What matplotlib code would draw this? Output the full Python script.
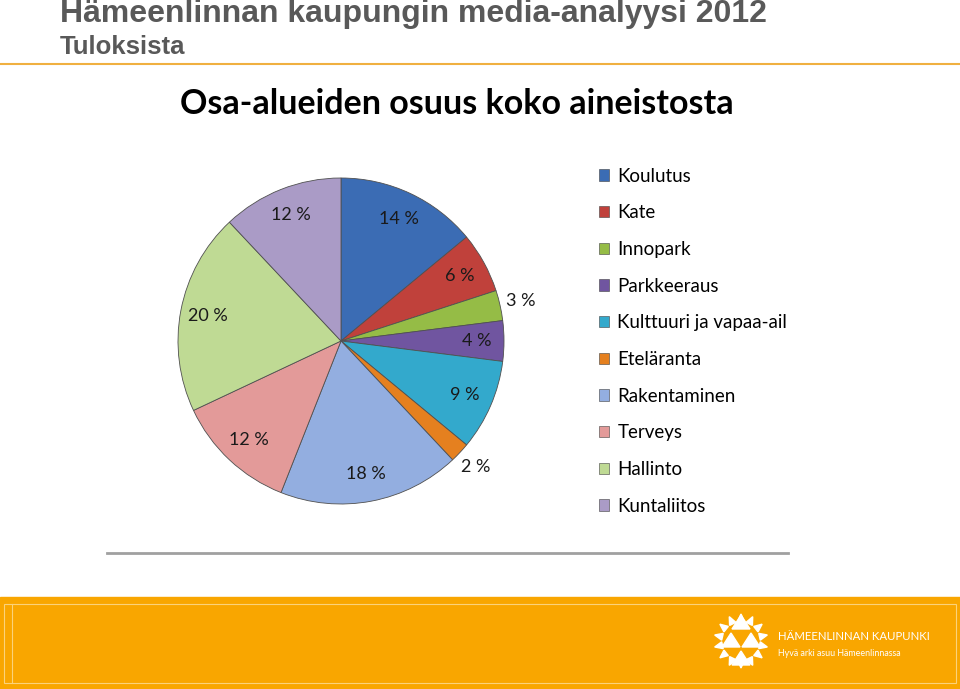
import numpy as np
import matplotlib
matplotlib.use("Agg")
import matplotlib.pyplot as plt
from matplotlib.patches import Rectangle, Polygon

# ---- data ----
categories = ["Koulutus", "Kate", "Innopark", "Parkkeeraus",
              "Kulttuuri ja vapaa-ail", "Eteläranta", "Rakentaminen",
              "Terveys", "Hallinto", "Kuntaliitos"]
shares = [14, 6, 3, 4, 9, 2, 18, 12, 20, 12]
colors = ["#3B6CB4", "#C0413B", "#95BC46", "#7055A0", "#33A9CC",
          "#E5801F", "#93AEE0", "#E39A99", "#BFDA94", "#AA9BC6"]
outside = [False, False, True, False, False, True, False, False, False, False]

W, H = 960, 689
fig = plt.figure(figsize=(W / 100, H / 100), dpi=100)

# background axes in pixel coordinates
bg = fig.add_axes([0, 0, 1, 1])
bg.set_xlim(0, W)
bg.set_ylim(H, 0)
bg.axis("off")

GRAY = "#595959"
bg.text(60, 14, "Hämeenlinnan kaupungin media-analyysi 2012", fontsize=23,
        fontweight="bold", color=GRAY, family="Liberation Sans", va="center")
bg.text(60, 47, "Tuloksista", fontsize=18.5, fontweight="bold", color=GRAY,
        family="Liberation Sans", va="center")
bg.plot([0, W], [64, 64], color="#F0B040", linewidth=1.5)

bg.text(457, 104, "Osa-alueiden osuus koko aineistosta", fontsize=24.5,
        fontweight="bold", color="black", family="Lato",
        ha="center", va="center")

bg.plot([107, 788], [553, 553], color="#A0A0A0", linewidth=2)

# footer band
bg.add_patch(Rectangle((0, 597), W, H - 597, color="#F9A600", zorder=1))
bg.add_patch(Rectangle((4, 604), 952, 79, fill=False, edgecolor="#FBD27A",
                       linewidth=0.8, zorder=2))
bg.plot([12, 12], [604, 683], color="#FBD27A", linewidth=0.8, zorder=2)

# logo: ring of small triangles + inner pyramid
cx, cy = 741, 641
for k in range(14):
    a = np.deg2rad(k * 360 / 14 + 90)
    r0, r1 = 19, 27
    ux, uy = np.cos(a), -np.sin(a)
    px, py = -uy, ux
    tri = [(cx + ux * r0 + px * 3.5, cy + uy * r0 + py * 3.5),
           (cx + ux * r0 - px * 3.5, cy + uy * r0 - py * 3.5),
           (cx + ux * r1, cy + uy * r1)]
    bg.add_patch(Polygon(tri, closed=True, color="white", zorder=3))
for (tx, ty, s) in [(741, 622, 9), (731, 640, 9), (751, 640, 9), (741, 658, 9)]:
    bg.add_patch(Polygon([(tx - s, ty + 7), (tx + s, ty + 7), (tx, ty - 7)],
                         closed=True, color="white", zorder=3))
bg.text(778, 637, "HÄMEENLINNAN KAUPUNKI", fontsize=8.2, color="white",
        family="Lato", va="center", zorder=3)
bg.text(778, 653, "Hyvä arki asuu Hämeenlinnassa", fontsize=6.4,
        color="white", family="Lato", va="center", zorder=3)

# ---- pie ----
pcx, pcy, R = 341, 341, 163
ax = fig.add_axes([(pcx - R) / W, (H - pcy - R) / H, 2 * R / W, 2 * R / H])
wedges, _ = ax.pie(shares, colors=colors, startangle=90, counterclock=False,
                   radius=1.0,
                   wedgeprops=dict(edgecolor="#505050", linewidth=0.6))
ax.set_xlim(-1, 1)
ax.set_ylim(-1, 1)

for w, v, out in zip(wedges, shares, outside):
    mid = np.deg2rad((w.theta1 + w.theta2) / 2)
    d = 1.13 if out else 0.83
    ax.text(d * np.cos(mid), d * np.sin(mid), f"{v} %", ha="center",
            va="center", fontsize=13, family="Lato", color="#1A1A1A")

leg = fig.legend(wedges, categories, loc="upper left",
                 bbox_to_anchor=(591 / W, 1 - 160 / H), frameon=False,
                 prop=dict(family="Lato", size=13.5), handlelength=0.55,
                 handleheight=0.55, handletextpad=0.45, labelspacing=1.05,
                 borderaxespad=0)
for h in leg.legend_handles:
    h.set_edgecolor("#404040")
    h.set_linewidth(0.4)

fig.savefig("out.png", dpi=100)
